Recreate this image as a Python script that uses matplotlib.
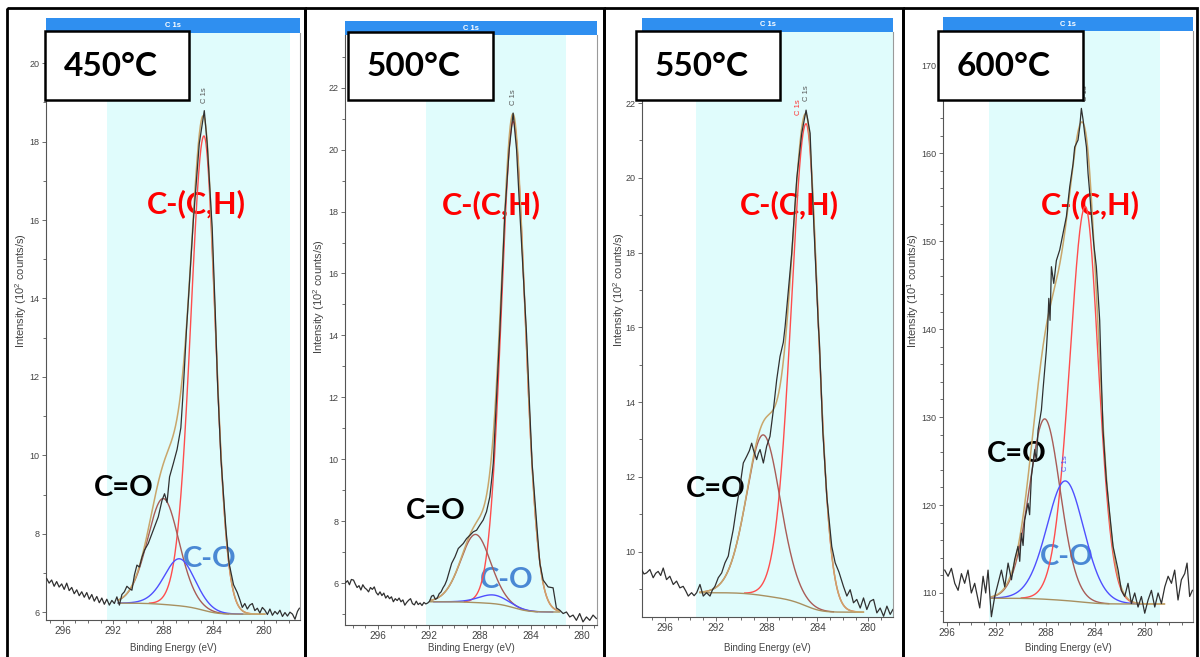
import numpy as np
import matplotlib
matplotlib.use("Agg")
import matplotlib.pyplot as plt
from matplotlib.patches import Rectangle
from matplotlib.ticker import MultipleLocator

plt.rcParams["font.family"] = ["Liberation Sans", "DejaVu Sans"]
plt.rcParams["mathtext.default"] = "regular"

W, H = 1200, 657

temps = ["450°C", "500°C", "550°C", "600°C"]
comp_names = ["C-(C,H)", "C=O", "C-O"]
ylabels = ["Intensity (10$^2$ counts/s)"] * 3 + ["Intensity (10$^1$ counts/s)"]

# ---------------- 450 C ----------------
raw_e_450 = [297.3, 297.1, 296.9, 296.7, 296.5, 296.3, 296.1, 295.9, 295.7, 295.5, 295.3, 295.1,
             294.9, 294.7, 294.5, 294.3, 294.1, 293.9, 293.7, 293.5, 293.3, 293.1, 292.9, 292.7,
             292.5, 292.3, 292.1, 291.9, 291.7, 291.5, 291.3, 291.1, 290.9, 290.7, 290.5, 290.3,
             290.1, 289.9, 289.7, 289.5, 289.2, 288.8, 288.4, 288.1, 287.9, 287.7, 287.5, 287.2,
             286.9, 286.6, 286.45, 286.3, 286.15, 286.0, 285.6, 285.13, 284.73, 284.5, 284.1,
             283.85, 283.67, 283.4, 283.0, 282.75, 282.4, 282.1, 281.9, 281.7, 281.5, 281.3,
             281.1, 280.9, 280.7, 280.5, 280.3, 280.1, 279.9, 279.7, 279.5, 279.3, 279.1, 278.9,
             278.7, 278.5, 278.3, 278.1, 277.9, 277.7, 277.5, 277.3, 277.15]
raw_i_450 = [6.86, 6.74, 6.82, 6.66, 6.78, 6.64, 6.72, 6.58, 6.74, 6.55, 6.63, 6.47,
             6.57, 6.42, 6.52, 6.38, 6.50, 6.33, 6.45, 6.28, 6.40, 6.24, 6.36, 6.20,
             6.33, 6.18, 6.30, 6.22, 6.39, 6.18, 6.45, 6.52, 6.66, 6.60, 6.56, 6.95,
             7.20, 7.15, 7.40, 7.58, 7.75, 8.09, 8.43, 8.85, 9.02, 8.80, 9.45, 9.79,
             10.15, 10.70, 11.45, 12.30, 13.20, 13.95, 16.0, 17.95, 18.79, 17.95, 15.8,
             13.6, 11.8, 9.9, 8.09, 7.24, 6.70, 6.50, 6.32, 6.12, 6.22, 6.08,
             6.18, 6.22, 6.04, 6.10, 5.98, 6.12, 6.05, 5.94, 6.08, 5.92, 6.02, 5.95,
             6.05, 5.89, 5.99, 5.90, 6.00, 5.95, 5.82, 6.02, 6.10]
# fitted components: C-(C,H), C=O, C-O (centre eV, height above background, FWHM high/low BE side)
cen_450 = [284.75, 288.0, 286.7]
hgt_450 = [12.1, 2.7, 1.2]
fw_hi_450 = [2.6, 3.1, 3.0]
fw_lo_450 = [2.2, 3.1, 3.0]
region_450 = [291.6, 279.9]
bg_ends_450 = [6.23, 5.95]

# ---------------- 500 C ----------------
raw_e_500 = [298.55, 298.4, 298.25, 298.1, 297.93, 297.8, 297.65, 297.5, 297.35, 297.2, 297.05,
             296.9, 296.75, 296.6, 296.45, 296.3, 296.15, 296.0, 295.85, 295.7, 295.55, 295.4,
             295.25, 295.1, 294.95, 294.8, 294.65, 294.5, 294.35, 294.2, 294.05, 293.9, 293.75,
             293.6, 293.45, 293.3, 293.15, 293.0, 292.85, 292.7, 292.55, 292.4, 292.25, 292.1,
             291.95, 291.8, 291.65, 291.5, 291.35, 291.2, 291.05, 290.9, 290.75, 290.6, 290.22,
             289.96, 289.7, 289.31, 289.05, 288.78, 288.52, 288.26, 288.0, 287.74, 287.48,
             287.22, 287.08, 286.95, 286.82, 286.69, 286.43, 286.04, 285.7, 285.39, 285.12,
             284.86, 284.34, 284.13, 283.9, 283.5, 283.29, 283.03, 282.64, 282.25, 281.99,
             281.73, 281.46, 281.2, 280.94, 280.68, 280.42, 280.16, 279.9, 279.63, 279.37,
             279.11, 278.85]
raw_i_500 = [6.02, 6.08, 5.95, 6.12, 6.10, 5.98, 5.86, 5.92, 5.78, 5.95, 5.85,
             5.80, 5.72, 5.86, 5.80, 5.88, 5.70, 5.62, 5.72, 5.60, 5.68, 5.52,
             5.60, 5.50, 5.56, 5.40, 5.50, 5.44, 5.52, 5.40, 5.46, 5.29, 5.38,
             5.45, 5.50, 5.34, 5.30, 5.42, 5.31, 5.36, 5.28, 5.38, 5.33, 5.36,
             5.42, 5.58, 5.61, 5.48, 5.52, 5.66, 5.72, 5.85, 5.95, 6.10, 6.64,
             6.85, 7.12, 7.28, 7.44, 7.55, 7.66, 7.71, 7.88, 8.04, 8.31,
             8.79, 9.33, 9.87, 10.95, 12.02, 14.18, 17.95, 20.0, 21.18, 20.0,
             17.95, 14.07, 12.02, 9.87, 7.71, 6.64, 6.10, 5.88, 5.85, 5.20,
             5.13, 5.02, 5.07, 4.91, 4.97, 4.80, 5.02, 4.75, 4.91, 4.80,
             4.97, 4.86]
cen_500 = [285.38, 288.34, 286.95]
hgt_500 = [15.7, 2.2, 0.28]
fw_hi_500 = [2.3, 2.9, 2.8]
fw_lo_500 = [2.3, 2.9, 2.8]
region_500 = [291.92, 281.73]
bg_ends_500 = [5.40, 5.07]

# ---------------- 550 C ----------------
raw_e_550 = [297.84, 297.64, 297.44, 297.18, 296.92, 296.72, 296.53, 296.33, 296.13, 295.87,
             295.61, 295.34, 295.08, 294.82, 294.56, 294.36, 294.16, 293.9, 293.7, 293.5,
             293.24, 292.98, 292.72, 292.45, 292.25, 292.06, 291.8, 291.53, 291.27, 291.01,
             290.88, 290.62, 290.35, 290.09, 289.83, 289.56, 289.35, 289.17, 289.04, 288.78,
             288.65, 288.51, 288.38, 288.25, 287.99, 287.73, 287.46, 287.2, 286.94, 286.68,
             286.54, 286.02, 285.62, 285.23, 284.89, 284.57, 284.44, 284.18, 283.92, 283.84,
             283.58, 283.26, 282.87, 282.6, 282.3, 281.95, 281.68, 281.42, 281.16, 280.9,
             280.63, 280.37, 280.11, 279.85, 279.58, 279.32, 279.06, 278.79, 278.53, 278.27,
             278.06]
raw_i_550 = [9.52, 9.40, 9.43, 9.52, 9.30, 9.42, 9.47, 9.36, 9.56, 9.25,
             9.34, 9.12, 9.21, 9.03, 9.07, 8.95, 8.81, 8.90, 8.82, 8.90,
             9.12, 8.81, 8.90, 8.81, 8.98, 9.07, 9.30, 9.43, 9.70, 9.88,
             10.14, 10.59, 11.21, 11.75, 12.37, 12.55, 12.70, 12.90, 12.73, 12.46,
             12.62, 12.73, 12.55, 12.37, 12.82, 13.08, 13.80, 14.60, 15.22, 15.60,
             16.02, 17.98, 19.99, 21.19, 21.81, 21.19, 19.99, 17.98, 16.02, 15.60,
             13.26, 11.48, 10.14, 9.70, 9.45, 9.07, 8.81, 8.98, 8.63, 8.72,
             8.49, 8.76, 8.45, 8.67, 8.72, 8.36, 8.49, 8.27, 8.54, 8.32,
             8.45]
cen_550 = [284.88, 288.25]
hgt_550 = [12.9, 4.3]
fw_hi_550 = [2.9, 3.3]
fw_lo_550 = [2.3, 3.3]
region_550 = [293.24, 280.37]
bg_ends_550 = [8.90, 8.38]

# ---------------- 600 C ----------------
raw_e_600 = [296.16, 295.89, 295.62, 295.35, 295.08, 294.81, 294.55, 294.28, 294.01, 293.74,
             293.33, 293.06, 292.85, 292.66, 292.39, 292.12, 291.85, 291.58, 291.31, 291.04,
             290.77, 290.51, 290.24, 290.1, 289.97, 289.83, 289.7, 289.43, 289.3, 289.16,
             288.89, 288.75, 288.62, 288.35, 288.22, 287.95, 287.85, 287.75, 287.65, 287.54,
             287.35, 287.14, 286.87, 286.6, 286.33, 286.06, 285.79, 285.66, 285.39, 285.25,
             285.12, 284.98, 284.85, 284.71, 284.58, 284.44, 284.31, 284.12, 283.91, 283.77,
             283.64, 283.5, 283.37, 283.1, 282.83, 282.56, 282.15, 281.89, 281.62, 281.35,
             281.08, 280.81, 280.54, 280.27, 280.0, 279.73, 279.46, 279.19, 278.92, 278.65,
             278.38, 278.11, 277.84, 277.58, 277.31, 277.04, 276.77, 276.58, 276.37, 276.15]
raw_i_600 = [112.6, 111.9, 112.8, 111.1, 110.3, 112.2, 111.1, 112.6, 110.0, 111.1,
             108.3, 111.9, 110.0, 112.6, 107.3, 109.6, 111.1, 112.6, 110.7, 113.4,
             111.5, 113.8, 115.3, 113.6, 116.8, 115.4, 118.3, 120.2, 118.9, 123.2,
             126.3, 125.0, 128.5, 130.8, 133.1, 137.6, 139.9, 143.5, 141.0, 147.1,
             145.2, 147.8, 149.0, 150.9, 152.8, 156.2, 158.8, 160.7, 161.5, 163.0,
             165.1, 163.8, 162.2, 160.7, 157.7, 155.4, 152.8, 149.7, 147.1, 144.0,
             141.0, 134.2, 128.5, 122.8, 119.0, 115.3, 112.6, 110.3, 109.6, 111.1,
             108.8, 110.0, 108.4, 109.6, 107.7, 109.2, 110.3, 108.4, 110.0, 108.8,
             110.7, 111.9, 111.1, 112.6, 109.2, 111.5, 112.2, 113.4, 109.6, 110.3]
cen_600 = [284.8, 288.08, 286.41]
hgt_600 = [45.0, 20.5, 13.6]
fw_hi_600 = [3.1, 3.1, 3.7]
fw_lo_600 = [2.6, 3.1, 3.7]
region_600 = [292.39, 278.4]
bg_ends_600 = [109.4, 108.75]

# label anchor points (eV, intensity) for the component names
lab_450 = {"C-(C,H)": (285.37, 16.42), "C=O": (291.16, 9.16), "C-O": (284.33, 7.35)}
lab_500 = {"C-(C,H)": (287.06, 18.22), "C=O": (291.45, 8.33), "C-O": (285.88, 6.10)}
lab_550 = {"C-(C,H)": (286.23, 19.27), "C=O": (291.98, 11.68)}
lab_600 = {"C-(C,H)": (284.36, 154.1), "C=O": (290.34, 125.8), "C-O": (286.30, 114.1)}

data = [
    (raw_e_450, raw_i_450, cen_450, hgt_450, fw_hi_450, fw_lo_450, region_450, bg_ends_450, lab_450),
    (raw_e_500, raw_i_500, cen_500, hgt_500, fw_hi_500, fw_lo_500, region_500, bg_ends_500, lab_500),
    (raw_e_550, raw_i_550, cen_550, hgt_550, fw_hi_550, fw_lo_550, region_550, bg_ends_550, lab_550),
    (raw_e_600, raw_i_600, cen_600, hgt_600, fw_hi_600, fw_lo_600, region_600, bg_ends_600, lab_600),
]

# layout in pixels: axes box (l, t, r, b), frame x, header top, temp box, temp text centre
layout = [
    dict(box=(46, 33, 300, 620), xlim=(297.35, 277.1), ylim=(5.8, 20.77), ymaj=2, ymin=1,
         cyan=(292.5, 277.9), frame=(7, 305), head=18, tbox=(45, 31, 189, 100), tx=111, ylx=21, yly=291),
    dict(box=(345, 35, 597, 625), xlim=(298.6, 278.8), ylim=(4.65, 23.7), ymaj=2, ymin=1,
         cyan=(292.2, 281.25), frame=(305, 604), head=21, tbox=(348, 32, 493, 100), tx=414, ylx=319, yly=297),
    dict(box=(642, 32, 893, 617), xlim=(297.8, 278.05), ylim=(8.25, 23.9), ymaj=2, ymin=1,
         cyan=(293.55, 278.05), frame=(604, 903), head=18, tbox=(636, 31, 780, 100), tx=702, ylx=619, yly=290),
    dict(box=(943, 31, 1193, 622), xlim=(296.3, 276.1), ylim=(106.7, 173.9), ymaj=10, ymin=2,
         cyan=(292.6, 278.8), frame=(903, 1197), head=17, tbox=(938, 31, 1083, 100), tx=1004, ylx=913, yly=291),
]

comp_colors = ["#ff4d4d", "#a85c57", "#4f4fff"]
label_colors = {"C-(C,H)": "#ff0000", "C=O": "#000000", "C-O": "#4a88d4"}
CYAN = "#e0fcfc"
HEAD = "#2f8ff0"


def gl(e, c, h, w_hi, w_lo, m=0.3):
    # CasaXPS style GL(30) line shape, separate widths on each side
    w = np.where(e > c, w_hi, w_lo)
    x2 = ((e - c) / w) ** 2
    return h * np.exp(-4 * np.log(2) * (1 - m) * x2) / (1 + 4 * m * x2)


fig = plt.figure(figsize=(12, 6.57), dpi=100)
ov = fig.add_axes([0, 0, 1, 1], zorder=5)
ov.set_xlim(0, W)
ov.set_ylim(H, 0)
ov.axis("off")
ov.patch.set_visible(False)

for k, (d, lay) in enumerate(zip(data, layout)):
    re, ri, cen, hgt, fwh, fwl, region, bge, labs = d
    l, t, r, b = lay["box"]
    ax = fig.add_axes([l / W, 1 - b / H, (r - l) / W, (b - t) / H])
    ax.set_xlim(*lay["xlim"])
    ax.set_ylim(*lay["ylim"])
    ax.axvspan(*lay["cyan"], color=CYAN, lw=0, zorder=0)

    e = np.arange(region[0], region[1], -0.02)
    comps = [gl(e, c, h, a, bb) for c, h, a, bb in zip(cen, hgt, fwh, fwl)]
    tot = np.sum(comps, axis=0)
    area = np.cumsum(tot[::-1])[::-1]
    bg = bge[1] + (bge[0] - bge[1]) * area / area[0]

    for j, cp in enumerate(comps):
        y = np.where(cp > 1e-3 * hgt[j], bg + cp, np.nan)
        ax.plot(e, y, color=comp_colors[j], lw=1.0, zorder=2.2)
    ax.plot(e, bg, color="#a89060", lw=1.0, zorder=2.3)
    ax.plot(e, bg + tot, color="#c9a66b", lw=1.1, zorder=2.4)
    ax.plot(re, ri, color="#303030", lw=0.9, zorder=3)

    for name, (lx, ly) in labs.items():
        fs = 22 if name == "C-(C,H)" else 21
        ax.text(lx, ly, name, color=label_colors[name], fontsize=fs, fontweight="bold",
                family=["Lato", "DejaVu Sans"], ha="center", va="center", zorder=1.5)

    # small peak tags
    y0, y1 = ax.get_ylim()
    ax.text(cen[0] - 0.05, y0 + (y1 - y0) * 0.895, "C 1s",
            rotation=90, fontsize=5.5, color="#555555", ha="center", va="center", zorder=3)
    if k == 2:
        ax.text(cen[0] + 0.6, 21.9, "C 1s", rotation=90, fontsize=5.5, color="#ff3030",
                ha="center", va="center", zorder=3)
    if k == 3:
        ax.text(cen[2], 124.8, "C 1s", rotation=90, fontsize=5.5, color="#4f4fff",
                ha="center", va="center", zorder=3)

    ax.xaxis.set_major_locator(MultipleLocator(4))
    ax.xaxis.set_minor_locator(MultipleLocator(1))
    ax.yaxis.set_major_locator(MultipleLocator(lay["ymaj"]))
    ax.yaxis.set_minor_locator(MultipleLocator(lay["ymin"]))
    ax.tick_params(which="both", direction="out", color="#555555", width=0.6,
                   labelsize=6.5, labelcolor="#444444", pad=1.5, top=False, right=False)
    ax.tick_params(axis="x", labelsize=7.2)
    ax.tick_params(which="major", length=3)
    ax.tick_params(which="minor", length=2)
    for s in ["left", "bottom"]:
        ax.spines[s].set_color("#555555")
        ax.spines[s].set_linewidth(0.8)
    ax.spines["right"].set_color("#9a9a9a")
    ax.spines["top"].set_visible(False)

    # panel frame, header bar, temperature box, axis titles
    fx0, fx1 = lay["frame"]
    ov.add_patch(Rectangle((fx0, 8), fx1 - fx0, 660, fill=False, ec="black", lw=2))
    ov.add_patch(Rectangle((l, lay["head"]), r - l, t - lay["head"], fc=HEAD, ec="none"))
    ov.text((l + r) / 2, (lay["head"] + t) / 2, "C 1s", color="white", fontsize=5.5,
            fontweight="bold", ha="center", va="center")
    bx0, by0, bx1, by1 = lay["tbox"]
    ov.add_patch(Rectangle((bx0, by0), bx1 - bx0, by1 - by0, fc="white", ec="black", lw=1.8))
    ov.text(lay["tx"], (by0 + by1) / 2 + 1, temps[k], fontsize=24, fontweight="bold",
            family=["Lato", "DejaVu Sans"], ha="center", va="center")
    ov.text(lay["ylx"], lay["yly"], ylabels[k], rotation=90, fontsize=8, color="#444444",
            ha="center", va="center")
    ov.text((l + r) / 2, 648, "Binding Energy (eV)", fontsize=7, color="#444444",
            ha="center", va="center")

fig.savefig("out.png", dpi=100)
